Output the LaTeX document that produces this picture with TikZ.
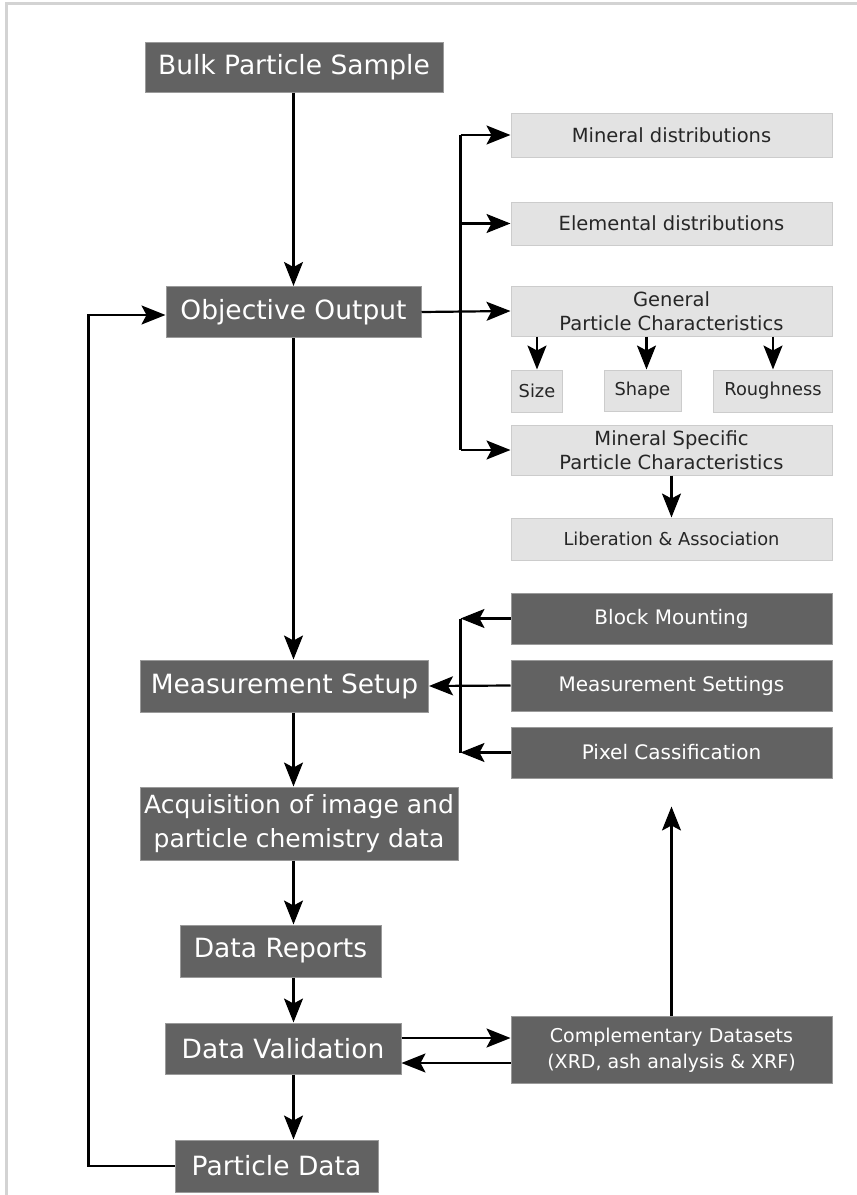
\documentclass[tikz,border=0pt]{standalone}
\usepackage{fontspec}
\setmainfont{DejaVu Sans}
\usetikzlibrary{arrows.meta}
\definecolor{darkbox}{HTML}{626262}
\definecolor{darkedge}{HTML}{9A9A9A}
\definecolor{lightbox}{HTML}{E3E3E3}
\definecolor{lightedge}{HTML}{CCCCCC}
\definecolor{lighttext}{HTML}{262626}
\definecolor{framegray}{HTML}{D3D3D3}

\begin{document}
\begin{tikzpicture}[x=1pt, y=-1pt, line width=2.2pt,
    >={Stealth[length=24pt,width=19pt,inset=5pt]}]
  \tikzstyle{dark} = [draw=darkedge, fill=darkbox, text=white, line width=1pt,
    inner sep=0pt, align=center, font=\fontsize{26.5}{34}\selectfont]
  \tikzstyle{side} = [dark, minimum width=321pt, minimum height=51pt,
    font=\fontsize{20}{26}\selectfont]
  \tikzstyle{light} = [draw=lightedge, fill=lightbox, text=lighttext, line width=1pt,
    inner sep=0pt, align=center, font=\fontsize{19.5}{24}\selectfont]
  \tikzstyle{wide} = [light, minimum width=321pt]
  \tikzstyle{small} = [light, minimum height=42pt, font=\fontsize{17.8}{22}\selectfont]
  \tikzstyle{link} = [->, line width=2.2pt]
  \useasboundingbox (0,0) rectangle (857,1195);
  \draw[framegray, line width=3pt] (857,3) -- (6,3) -- (6,1195);
  \coordinate (spine) at (293.5,0);
  \coordinate (branch) at (460.5,0);

  % main column
  \node (bulk) [dark, minimum width=298pt, minimum height=50pt] at (294,67) {Bulk Particle Sample};
  \node (obj) [dark, minimum width=255pt, minimum height=51pt] at (293.5,312) {Objective Output};
  \node (setup) [dark, minimum width=288pt, minimum height=52pt] at (284.5,686) {Measurement Setup};
  \node (acq) [dark, minimum width=318pt, minimum height=73pt, font=\fontsize{25}{34}\selectfont]
    at (299,823.5) {Acquisition of image and\\particle chemistry data};
  \node (reports) [dark, minimum width=201pt, minimum height=52pt] at (280.5,951) {Data Reports};
  \node (valid) [dark, minimum width=236pt, minimum height=51pt] at (283,1048.5) {Data Validation};
  \node (pdata) [dark, minimum width=203pt, minimum height=52pt] at (276.5,1166) {Particle Data};

  % outputs
  \node (mineral) [wide, minimum height=44pt] at (671.5,135) {Mineral distributions};
  \node (elemental) [wide, minimum height=43pt] at (671.5,223.5) {Elemental distributions};
  \node (general) [wide, minimum height=50pt] at (671.5,311) {General\\Particle Characteristics};
  \node (size) [small, minimum width=51pt] at (537,391) {Size};
  \node (shape) [small, minimum width=77pt, minimum height=41pt] at (642.5,390.5) {Shape};
  \node (rough) [small, minimum width=119pt] at (773,391) {Roughness};
  \node (specific) [wide, minimum height=50pt] at (671.5,450) {Mineral Specific\\Particle Characteristics};
  \node (liberation) [wide, minimum height=42pt, font=\fontsize{17.8}{22}\selectfont]
    at (671.5,539) {Liberation \& Association};

  % setup inputs
  \node (block) [side] at (671.5,618.5) {Block Mounting};
  \node (settings) [side] at (671.5,685.5) {Measurement Settings};
  \node (pixel) [side] at (671.5,752.5) {Pixel Cassification};
  \node (comp) [side, minimum height=67pt, font=\fontsize{19}{26}\selectfont]
    at (671.5,1050) {Complementary Datasets\\(XRD, ash analysis \& XRF)};

  \draw[link] (bulk.south -| spine) -- (obj.north -| spine);
  \draw[link] (obj.south -| spine) -- (setup.north -| spine);
  \draw[link] (setup.south -| spine) -- (acq.north -| spine);
  \draw[link] (acq.south -| spine) -- (reports.north -| spine);
  \draw[link] (reports.south -| spine) -- (valid.north -| spine);
  \draw[link] (valid.south -| spine) -- (pdata.north -| spine);
  \draw[link] (pdata.west) -- ++(-86,0) |- ([yshift=-3pt]obj.west);

  \draw[link] (obj.east) -- (general.west);
  \draw (branch |- mineral.west) -- (branch |- specific.west);
  \foreach \n in {mineral, elemental, specific}
    \draw[link] (branch |- \n.west) -- (\n.west);
  \draw[link] (size.north |- general.south) -- (size.north);
  \draw[link] ([xshift=4pt]shape.north |- general.south) -- ([xshift=4pt]shape.north);
  \draw[link] (rough.north |- general.south) -- (rough.north);
  \draw[link] (specific.south) -- (liberation.north);

  \draw[link] (block.west) -- (branch |- block.west);
  \draw[link] (pixel.west) -- (branch |- pixel.west);
  \draw (branch |- block.west) -- (branch |- pixel.west);
  \draw[link] (settings.west) -- (setup.east);

  \draw[link] (comp.north) -- ([yshift=-28pt]pixel.south);
  \draw[link] ([yshift=10.5pt]valid.east) -- ([yshift=10.5pt]valid.east -| comp.west);
  \draw[link] ([yshift=-14.5pt]valid.east -| comp.west) -- ([yshift=-14.5pt]valid.east);
\end{tikzpicture}
\end{document}
